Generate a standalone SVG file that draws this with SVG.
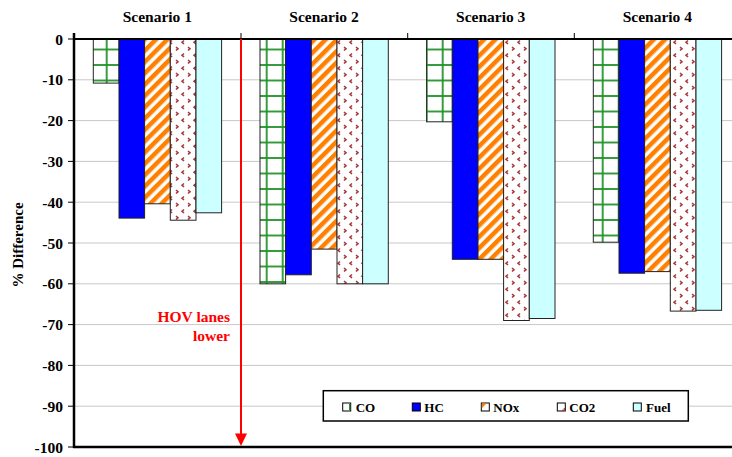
<svg xmlns="http://www.w3.org/2000/svg" width="732" height="457" viewBox="0 0 732 457" font-family="'Liberation Serif', 'DejaVu Serif', serif">
<style>
text{font-family:'Liberation Serif','DejaVu Serif',serif;font-weight:bold}
.ax{font-size:15.5px;text-anchor:end}
.sc{font-size:15.5px;text-anchor:middle}
.lg{font-size:13px}
.grid{stroke:#c8c8c8;stroke-width:1}
.bar{stroke:#222;stroke-width:1}
.co{fill:url(#pCO)}
.hc{fill:#0000ff}
.nox{fill:url(#pNOx)}
.co2{fill:url(#pCO2)}
.fuel{fill:#ccffff}
.red{fill:#ff0000}
</style>
<defs>
<pattern id="pCO" patternUnits="userSpaceOnUse" x="0.7" y="3" width="16" height="15.5">
<rect width="16" height="15.5" fill="#fff"/>
<line x1="10" y1="0" x2="10" y2="15.5" stroke="#22922a" stroke-width="1.8"/>
<line x1="0" y1="0" x2="16" y2="0" stroke="#22922a" stroke-width="1.8"/>
<line x1="0" y1="15.5" x2="16" y2="15.5" stroke="#22922a" stroke-width="1.8"/>
</pattern>
<pattern id="pNOx" patternUnits="userSpaceOnUse" width="8" height="8" patternTransform="rotate(45)">
<rect width="8" height="8" fill="#fff"/>
<rect width="4.5" height="8" fill="#ff7f00"/>
</pattern>
<pattern id="pCO2" patternUnits="userSpaceOnUse" width="12" height="13">
<rect width="12" height="13" fill="#fff"/>
<path d="M4 1.5 L2 3.2 L4 5" fill="none" stroke="#a83a3a" stroke-width="1.6"/>
<path d="M8 8 L10 9.7 L8 11.5" fill="none" stroke="#a83a3a" stroke-width="1.6"/>
</pattern>
</defs>
<rect width="732" height="457" fill="#fff"/>
<g id="grid">
<line class="grid" x1="74" y1="79.8" x2="732" y2="79.8"/>
<line class="grid" x1="74" y1="120.6" x2="732" y2="120.6"/>
<line class="grid" x1="74" y1="161.4" x2="732" y2="161.4"/>
<line class="grid" x1="74" y1="202.2" x2="732" y2="202.2"/>
<line class="grid" x1="74" y1="243" x2="732" y2="243"/>
<line class="grid" x1="74" y1="283.8" x2="732" y2="283.8"/>
<line class="grid" x1="74" y1="324.6" x2="732" y2="324.6"/>
<line class="grid" x1="74" y1="365.4" x2="732" y2="365.4"/>
<line class="grid" x1="74" y1="406.2" x2="732" y2="406.2"/>
</g>
<g id="scenario1">
<rect class="bar co" x="93.3" y="39" width="25.7" height="44.1"/>
<rect class="bar hc" x="119" y="39" width="25.6" height="179.1"/>
<rect class="bar nox" x="144.6" y="39" width="25.7" height="164.8"/>
<rect class="bar co2" x="170.3" y="39" width="25.7" height="181.2"/>
<rect class="bar fuel" x="196" y="39" width="25.6" height="173.8"/>
</g>
<g id="scenario2">
<rect class="bar co" x="260" y="39" width="25.6" height="244.8"/>
<rect class="bar hc" x="285.6" y="39" width="25.7" height="235.8"/>
<rect class="bar nox" x="311.3" y="39" width="25.7" height="210.1"/>
<rect class="bar co2" x="337" y="39" width="25.6" height="244.8"/>
<rect class="bar fuel" x="362.6" y="39" width="25.7" height="244.8"/>
</g>
<g id="scenario3">
<rect class="bar co" x="426.6" y="39" width="25.7" height="82.8"/>
<rect class="bar hc" x="452.3" y="39" width="25.7" height="220.3"/>
<rect class="bar nox" x="478" y="39" width="25.6" height="220.3"/>
<rect class="bar co2" x="503.6" y="39" width="25.7" height="281.5"/>
<rect class="bar fuel" x="529.3" y="39" width="25.7" height="279.5"/>
</g>
<g id="scenario4">
<rect class="bar co" x="593.3" y="39" width="25.7" height="203.2"/>
<rect class="bar hc" x="619" y="39" width="25.6" height="234.2"/>
<rect class="bar nox" x="644.6" y="39" width="25.7" height="232.6"/>
<rect class="bar co2" x="670.3" y="39" width="25.7" height="272.1"/>
<rect class="bar fuel" x="696" y="39" width="25.6" height="271.3"/>
</g>
<g id="axes" stroke="#000">
<line x1="74" y1="33" x2="74" y2="448" stroke-width="2.5"/>
<line x1="73" y1="39" x2="732" y2="39" stroke-width="2"/>
<line x1="73" y1="447" x2="732" y2="447" stroke-width="2.5"/>
<line x1="241" y1="33" x2="241" y2="39" stroke-width="1"/>
<line x1="407.7" y1="33" x2="407.7" y2="39" stroke-width="1"/>
<line x1="574.3" y1="33" x2="574.3" y2="39" stroke-width="1"/>
<path d="M68 39H74M68 79.8H74M68 120.6H74M68 161.4H74M68 202.2H74M68 243H74M68 283.8H74M68 324.6H74M68 365.4H74M68 406.2H74M68 447H74" stroke-width="1"/>
</g>
<g id="y-labels">
<text class="ax" x="63" y="44.5">0</text>
<text class="ax" x="63" y="85.3">-10</text>
<text class="ax" x="63" y="126.1">-20</text>
<text class="ax" x="63" y="166.9">-30</text>
<text class="ax" x="63" y="207.7">-40</text>
<text class="ax" x="63" y="248.5">-50</text>
<text class="ax" x="63" y="289.3">-60</text>
<text class="ax" x="63" y="330.1">-70</text>
<text class="ax" x="63" y="370.9">-80</text>
<text class="ax" x="63" y="411.7">-90</text>
<text class="ax" x="63" y="452.5">-100</text>
<text font-size="15" text-anchor="middle" transform="translate(23,245) rotate(-90)">% Difference</text>
</g>
<g id="scenario-labels">
<text class="sc" x="157.3" y="21.7">Scenario 1</text>
<text class="sc" x="324" y="21.7">Scenario 2</text>
<text class="sc" x="490.7" y="21.7">Scenario 3</text>
<text class="sc" x="657.3" y="21.7">Scenario 4</text>
</g>
<g id="connectors">
<line x1="241" y1="39" x2="241" y2="436" stroke="#ff0000" stroke-width="2"/>
<polygon points="235,433.5 247,433.5 241,446" fill="#ff0000"/>
</g>
<g id="annotation">
<text class="red" x="230" y="321.7" font-size="15.5" text-anchor="end">HOV lanes</text>
<text class="red" x="230" y="340.5" font-size="15.5" text-anchor="end">lower</text>
</g>
<g id="legend">
<rect x="323.3" y="390.7" width="365" height="30.3" fill="#fff" stroke="#000" stroke-width="1.5"/>
<rect x="342.7" y="403" width="8" height="8" fill="#fff" stroke="#000" stroke-width="1"/>
<line x1="349.6" y1="404" x2="349.6" y2="410" stroke="#22922a" stroke-width="1.2"/>
<text class="lg" x="355.7" y="411.7">CO</text>
<rect x="412.3" y="403" width="8" height="8" fill="#0000ff" stroke="#000" stroke-width="1"/>
<text class="lg" x="424.3" y="411.7">HC</text>
<rect x="481.3" y="403" width="8" height="8" fill="#fff" stroke="#000" stroke-width="1"/>
<path d="M481.8 403.5 H486.5 L481.8 408.2 Z" fill="#ff7f00"/>
<text class="lg" x="493.3" y="411.7">NOx</text>
<rect x="557.3" y="403" width="8" height="8" fill="#fff" stroke="#000" stroke-width="1"/>
<path d="M564.3 408 V410.3 H562" fill="none" stroke="#a83a3a" stroke-width="1.2"/>
<text class="lg" x="569.3" y="411.7">CO2</text>
<rect x="633.3" y="403" width="8" height="8" fill="#ccffff" stroke="#000" stroke-width="1"/>
<text class="lg" x="646" y="411.7">Fuel</text>
</g>
</svg>
